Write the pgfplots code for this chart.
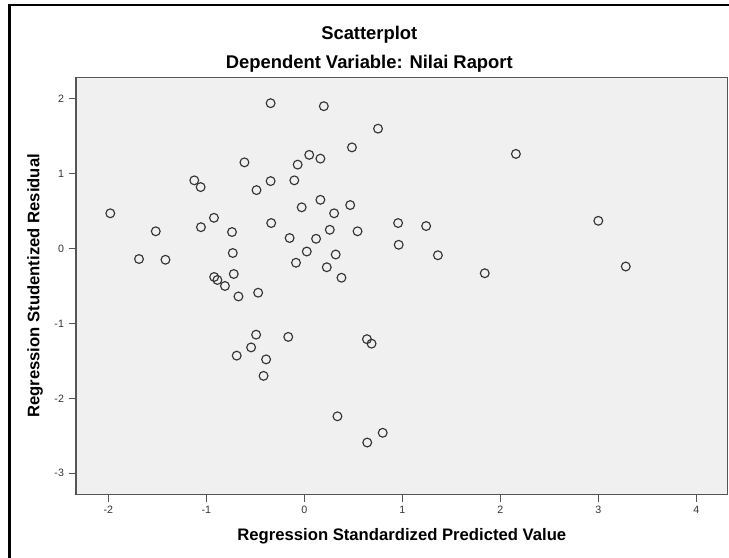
\documentclass[border=0pt]{standalone}
\usepackage{fontspec}
\setmainfont{Liberation Sans}
\usepackage{pgfplots}
\pgfplotsset{compat=1.18}
\definecolor{plotbg}{HTML}{F0F0F0}
\definecolor{axgray}{HTML}{555555}
\begin{document}
\begin{tikzpicture}
\begin{axis}[
    name=ax,
    at={(0,0)},
    scale only axis,
    width=488.8pt,
    height=312.4pt,
    xmin=-2.33, xmax=4.32,
    ymin=-3.28, ymax=2.28,
    axis background/.style={fill=plotbg},
    axis line style={draw=axgray, line width=0.9pt},
    tick align=outside,
    major tick length=5.5pt,
    tick style={draw=axgray, line width=0.9pt},
    xtick={-2,-1,0,1,2,3,4},
    xticklabels={-2,-1,0,1,2,3,4},
    ytick={-3,-2,-1,0,1,2},
    yticklabels={-3,-2,-1,0,1,2},
    xtick pos=lower,
    ytick pos=left,
    tick label style={font=\fontsize{8}{9}\selectfont, text=black!80},
    xlabel={Regression Standardized Predicted Value},
    ylabel={Regression Studentized Residual},
    label style={font=\bfseries\fontsize{12.5}{14}\selectfont},
    xlabel style={at={(axis description cs:0.5,0)}, anchor=center, yshift=-31.8pt},
    ylabel style={at={(axis description cs:0,0.5)}, anchor=center, yshift=30.75pt},
]
% studentized residuals vs standardized predicted values
\addplot[only marks, mark=o, mark size=3.3pt,
    mark options={draw=black!80, line width=0.85pt}]
coordinates {
(-0.344,1.94) (-0.611,1.15) (0.050,1.25) (-0.068,1.12) (-1.123,0.91)
(-1.058,0.82) (-0.344,0.90) (-0.102,0.91) (-0.488,0.78) (-1.980,0.47)
(-0.027,0.55) (-0.922,0.41) (-1.516,0.23) (-1.055,0.285) (-0.738,0.22)
(-0.338,0.34) (-0.150,0.14) (-1.687,-0.14) (-1.417,-0.15) (-0.730,-0.06)
(-0.085,-0.19) (0.025,-0.04) (-0.720,-0.34) (-0.920,-0.38) (-0.887,-0.42)
(-0.810,-0.50) (-0.672,-0.64) (-0.471,-0.59) (-0.492,-1.15) (-0.164,-1.18)
(-0.543,-1.32) (-0.690,-1.43) (-0.390,-1.48) (-0.416,-1.70) (2.159,1.263)
(3.000,0.37) (3.280,-0.24) (0.199,1.90) (0.752,1.60) (0.486,1.35)
(0.164,1.20) (0.164,0.65) (0.468,0.58) (0.304,0.47) (0.957,0.34)
(1.243,0.30) (0.260,0.25) (0.543,0.23) (0.120,0.13) (0.963,0.05)
(0.320,-0.08) (1.363,-0.09) (0.229,-0.25) (1.841,-0.33) (0.379,-0.39)
(0.639,-1.21) (0.686,-1.27) (0.338,-2.24) (0.800,-2.46) (0.642,-2.59)
};
\end{axis}
% fix the page to the reference's margins before drawing anything outside the axis
\path[use as bounding box] ([shift={(-57pt,-47.8pt)}]ax.south west) rectangle ([shift={(1pt,58.3pt)}]ax.north east);
% titles
\node[font=\bfseries\fontsize{13.8}{16}\selectfont] at ([shift={(220pt,32pt)}]ax.north west) {Scatterplot};
\node[font=\bfseries\fontsize{13.8}{16}\selectfont] at ([shift={(220pt,10.8pt)}]ax.north west) {Dependent Variable: Nilai Raport};
% outer frame
\draw[line width=2pt, black] ([shift={(-50pt,-52pt)}]ax.south west) -- ([shift={(-50pt,54.5pt)}]ax.north west) -- ([shift={(5pt,54.5pt)}]ax.north east);
\end{tikzpicture}
\end{document}
